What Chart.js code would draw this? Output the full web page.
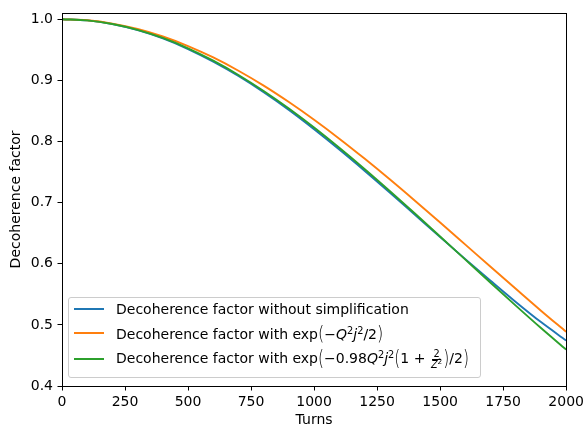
<!DOCTYPE html>
<html>
<head>
<meta charset="utf-8">
<script src="https://cdn.jsdelivr.net/npm/chart.js@4.4.1/dist/chart.umd.min.js"></script>
<style>
  html, body { margin: 0; padding: 0; background: #fff; }
  #wrap { position: relative; width: 587px; height: 425px; }
  canvas { display: block; }
  #legend {
    position: absolute; left: 68px; top: 297px; width: 413px; height: 81px;
    border: 1px solid #cccccc; border-radius: 3px; background: rgba(255,255,255,0.8);
    font-family: "DejaVu Sans", sans-serif; font-size: 14px; color: #000;
    box-sizing: border-box;
  }
  .row { position: absolute; left: 0; height: 22px; display: flex; align-items: center; white-space: nowrap; }
  .sw { display: inline-block; width: 30px; height: 2px; margin-left: 5px; margin-right: 12px; }
  i { font-style: italic; }
  sup { font-size: 0.7em; vertical-align: 0.55em; line-height: 0; }
  .bp { font-size: 1.15em; display: inline-block; transform: scaleY(1.25); font-weight: 300; }
  .bp2 { font-size: 1.1em; display: inline-block; transform: scaleY(1.4); font-weight: 300; }
  .frac { display: inline-flex; flex-direction: column; align-items: center; font-size: 0.7em; line-height: 1; vertical-align: middle; margin: 0 1px; }
  .frac .num { border-bottom: 1px solid #000; padding: 0 1px; }
  .frac sup { font-size: 0.75em; vertical-align: 0.5em; }
</style>
</head>
<body>
<div id="wrap">
  <canvas id="c" width="587" height="425"></canvas>
  <div id="legend">
    <div class="row" style="top:0px"><span class="sw" style="background:#1f77b4"></span><span>Decoherence factor without simplification</span></div>
    <div class="row" style="top:24px"><span class="sw" style="background:#ff7f0e"></span><span>Decoherence factor with exp<span class="bp">(</span>−<i>Q</i><sup>2</sup><i>j</i><sup>2</sup>/2<span class="bp">)</span></span></div>
    <div class="row" style="top:50px"><span class="sw" style="background:#2ca02c"></span><span>Decoherence factor with exp<span class="bp2">(</span>−0.98<i>Q</i><sup>2</sup><i>j</i><sup>2</sup><span class="bp2">(</span>1 + <span class="frac"><span class="num">2</span><span><i>Z</i><sup>2</sup></span></span><span class="bp2">)</span>/2<span class="bp2">)</span></span></div>
  </div>
</div>
<script>
const turns = [0,100,200,300,400,500,600,700,800,900,1000,1100,1200,1300,1400,1500,1600,1700,1800,1900,2000];
const fullFactor = [1.0000,0.9980,0.9920,0.9820,0.9685,0.9512,0.9305,0.9070,0.8805,0.8515,0.8200,0.7868,0.7522,0.7165,0.6800,0.6435,0.6075,0.5722,0.5375,0.5045,0.4745];
const gaussFactor = [1.0000,0.9982,0.9928,0.9840,0.9717,0.9561,0.9374,0.9157,0.8914,0.8645,0.8355,0.8046,0.7720,0.7381,0.7031,0.6675,0.6313,0.5950,0.5590,0.5232,0.4885];
const correctedFactor = [1.0000,0.9981,0.9922,0.9826,0.9693,0.9524,0.9321,0.9088,0.8826,0.8538,0.8227,0.7896,0.7550,0.7190,0.6821,0.6446,0.6067,0.5689,0.5315,0.4948,0.4595];
const xTicks = [0,250,500,750,1000,1250,1500,1750,2000];
const yTicks = [0.4,0.5,0.6,0.7,0.8,0.9,1.0];

const seriesNames = [
  'Decoherence factor without simplification',
  'Decoherence factor with exp(−Q²j²/2)',
  'Decoherence factor with exp(−0.98Q²j²(1+2/Z²)/2)'
];

function pts(arr) { return turns.map((t, i) => ({ x: t, y: arr[i] })); }

const frame = {
  id: 'frame',
  afterDatasetsDraw(chart) {
    const a = chart.chartArea, ctx = chart.ctx;
    ctx.save();
    ctx.strokeStyle = '#000';
    ctx.lineWidth = 1;
    ctx.strokeRect(Math.round(a.left) + 0.5, Math.round(a.top) + 0.5, Math.round(a.right - a.left), Math.round(a.bottom - a.top));
    ctx.restore();
  }
};

const font = { family: '"DejaVu Sans", sans-serif', size: 14 };

new Chart(document.getElementById('c'), {
  type: 'line',
  data: {
    datasets: [
      { label: seriesNames[0], data: pts(fullFactor), borderColor: '#1f77b4', order: 3 },
      { label: seriesNames[1], data: pts(gaussFactor), borderColor: '#ff7f0e', order: 2 },
      { label: seriesNames[2], data: pts(correctedFactor), borderColor: '#2ca02c', order: 1 }
    ]
  },
  options: {
    responsive: false,
    animation: false,
    devicePixelRatio: 1,
    layout: { padding: { left: 0, right: 20, top: 7, bottom: 0 } },
    elements: {
      line: { borderWidth: 1.9, cubicInterpolationMode: 'monotone', fill: false },
      point: { radius: 0, hitRadius: 0, hoverRadius: 0 }
    },
    plugins: { legend: { display: false }, tooltip: { enabled: false } },
    scales: {
      x: {
        type: 'linear', min: 0, max: 2000,
        afterBuildTicks: s => { s.ticks = xTicks.map(v => ({ value: v })); },
        afterFit: s => { s.height = 39; },
        grid: { display: true, drawOnChartArea: false, drawTicks: true, tickLength: 4.5, color: '#000', lineWidth: 1 },
        border: { display: false },
        ticks: { font, color: '#000', padding: 3, maxRotation: 0, autoSkip: false, callback: v => String(v) },
        title: { display: true, text: 'Turns', font, color: '#000', padding: { top: 0, bottom: -4 } }
      },
      y: {
        type: 'linear', min: 0.4, max: 1.0103,
        afterBuildTicks: s => { s.ticks = yTicks.map(v => ({ value: v })); },
        afterFit: s => { s.width = 62; },
        grid: { display: true, drawOnChartArea: false, drawTicks: true, tickLength: 4.5, color: '#000', lineWidth: 1 },
        border: { display: false },
        ticks: { font, color: '#000', padding: 4.5, autoSkip: false, callback: v => Number(v).toFixed(1) },
        title: { display: true, text: 'Decoherence factor', font, color: '#000', padding: { top: 8, bottom: 0 } }
      }
    }
  },
  plugins: [frame]
});
</script>
</body>
</html>
